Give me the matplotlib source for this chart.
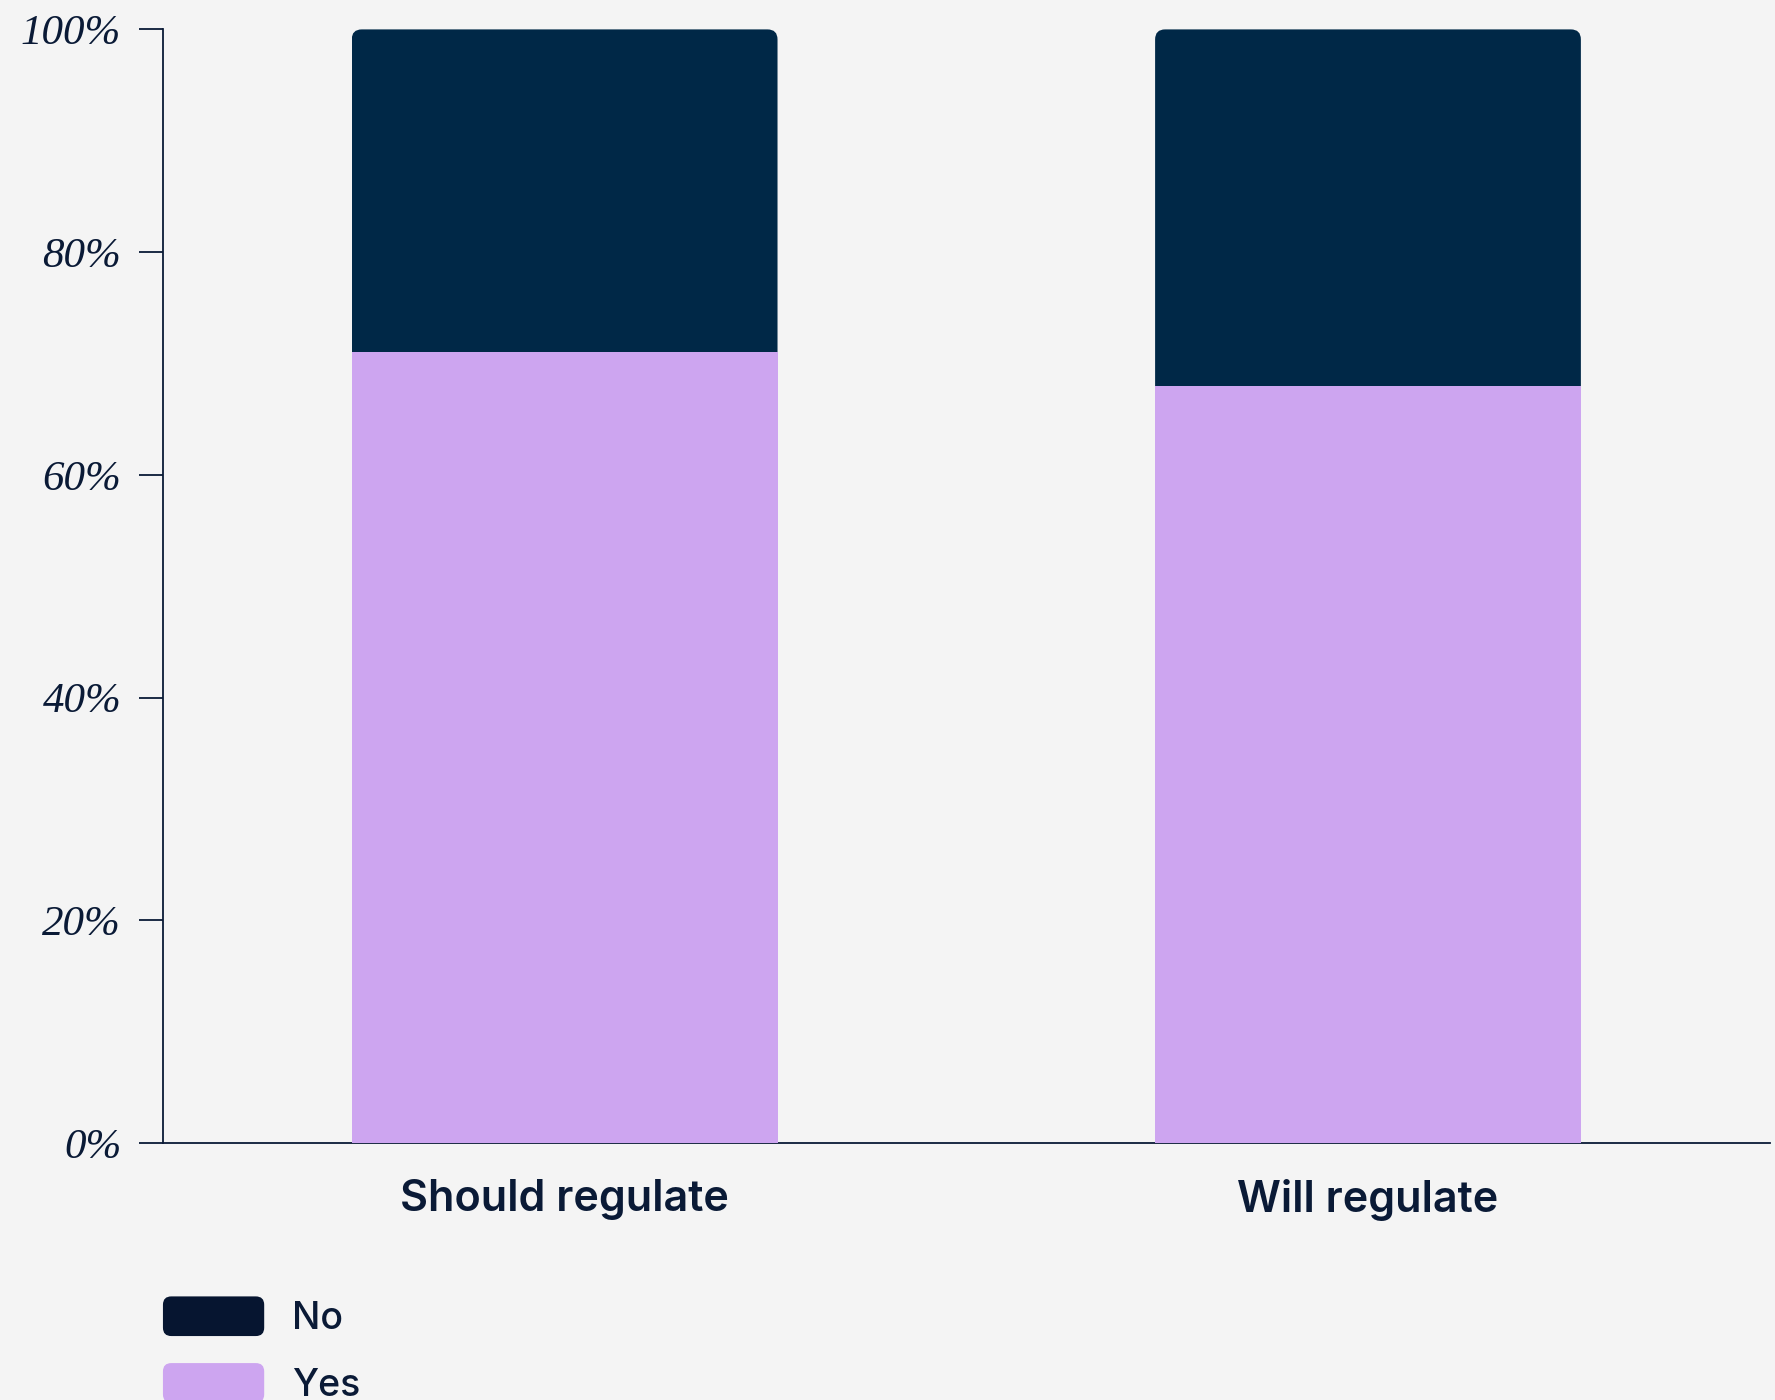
"""stacked share chart: should vs will regulate"""
import matplotlib
matplotlib.use("Agg")
import matplotlib.pyplot as plt
from matplotlib.patches import FancyBboxPatch, Patch
from matplotlib.legend_handler import HandlerPatch
from matplotlib.ticker import FuncFormatter

categories = ["Should regulate", "Will regulate"]
yes_share = [0.71, 0.68]
no_share = [0.29, 0.32]
y_ticks = [0, 0.2, 0.4, 0.6, 0.8, 1.0]

bg = "#f4f4f4"
ink = "#0a1a36"
navy = "#002847"
legend_navy = "#061530"
lilac = "#cda5f0"


class RoundHandler(HandlerPatch):
    def create_artists(self, legend, orig_handle, xdescent, ydescent, width, height, fontsize, trans):
        p = FancyBboxPatch((-xdescent, -ydescent), width, height,
                           boxstyle="round,pad=0,rounding_size=6",
                           facecolor=orig_handle.get_facecolor(), edgecolor="none",
                           transform=trans)
        return [p]


fig = plt.figure(figsize=(17.75, 14), dpi=100, facecolor=bg)
ax = fig.add_axes([0.0918, 0.1836, 0.9052, 0.7954])
ax.set_facecolor(bg)

x = list(range(len(categories)))
width = 0.53
ax.bar(x, yes_share, width=width, color=lilac, zorder=3, linewidth=0)
no_bars = ax.bar(x, no_share, bottom=yes_share, width=width, color=navy, zorder=3, linewidth=0)

ax.set_xlim(-0.5, 1.5)
ax.set_ylim(0, 1)

# round the top corners of the upper bars with a clip path
fig.canvas.draw()
px_x = (ax.transData.transform((1, 0))[0] - ax.transData.transform((0, 0))[0])
px_y = (ax.transData.transform((0, 1))[1] - ax.transData.transform((0, 0))[1])
r = 10 / px_x
for bar in no_bars:
    clip = FancyBboxPatch((bar.get_x(), 0), bar.get_width(), bar.get_y() + bar.get_height(),
                          boxstyle=f"round,pad=0,rounding_size={r}",
                          mutation_aspect=px_x / px_y,
                          transform=ax.transData, facecolor="none", edgecolor="none")
    bar.set_clip_path(clip)

ax.set_yticks(y_ticks)
ax.yaxis.set_major_formatter(FuncFormatter(lambda v, p: f"{v * 100:.0f}%"))
ax.set_xticks(x)
ax.set_xticklabels(categories)

for s in ["top", "right"]:
    ax.spines[s].set_visible(False)
for s in ["left", "bottom"]:
    ax.spines[s].set_color(ink)
    ax.spines[s].set_linewidth(1.3)

ax.tick_params(axis="y", length=17, width=1.3, color=ink, pad=13, labelcolor=ink)
ax.tick_params(axis="x", length=0, pad=26, labelcolor=ink)
for lab in ax.get_yticklabels():
    lab.set_fontfamily("Liberation Serif")
    lab.set_fontstyle("italic")
    lab.set_fontsize(31)
for lab in ax.get_xticklabels():
    lab.set_fontfamily("Inter")
    lab.set_fontweight(600)
    lab.set_fontsize(31)

handles = [Patch(facecolor=legend_navy, label="No"), Patch(facecolor=lilac, label="Yes")]
leg = fig.legend(handles=handles, loc="upper left", bbox_to_anchor=(0.0918, 0.074),
                 frameon=False, borderpad=0, borderaxespad=0,
                 handlelength=2.7, handleheight=1.25, handletextpad=0.75, labelspacing=0.7,
                 prop={"family": "Inter", "weight": 500, "size": 27},
                 handler_map={Patch: RoundHandler()})
for t in leg.get_texts():
    t.set_color(ink)

fig.savefig("out.png", dpi=100, facecolor=bg)
